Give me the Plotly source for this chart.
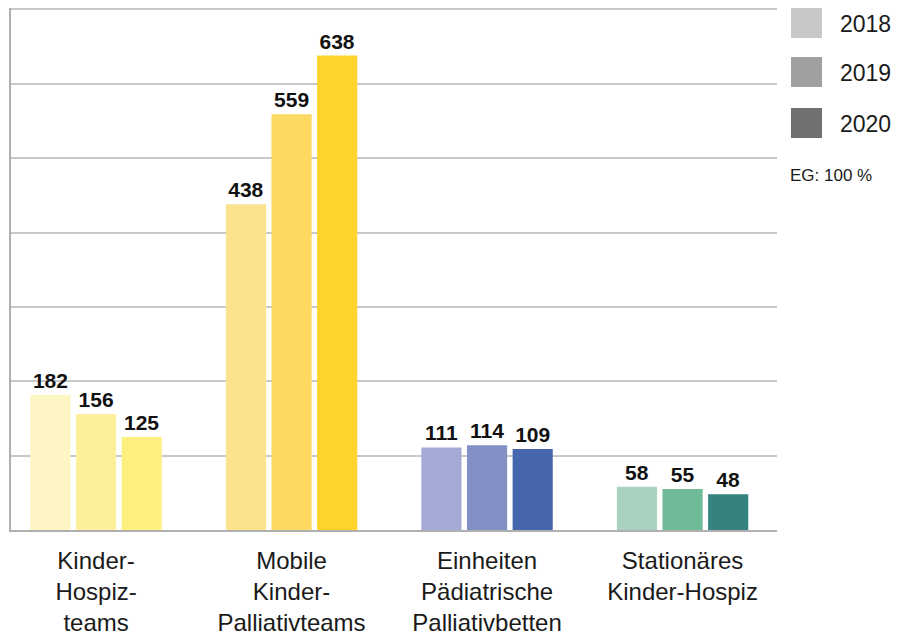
import plotly.graph_objects as go

categories = ["Kinder-<br>Hospiz-<br>teams", "Mobile<br>Kinder-<br>Palliativteams",
              "Einheiten<br>Pädiatrische<br>Palliativbetten", "Stationäres<br>Kinder-Hospiz"]
years = ["2018", "2019", "2020"]
v2018 = [182, 438, 111, 58]
v2019 = [156, 559, 114, 55]
v2020 = [125, 638, 109, 48]
colors2018 = ["#FDF6C4", "#FDE28E", "#A4AAD6", "#A9D3BE"]
colors2019 = ["#FCF09A", "#FDD962", "#8290C6", "#6FBA97"]
colors2020 = ["#FEF07F", "#FED42C", "#4566AD", "#35827F"]
legend_colors = ["#C8C8C8", "#A0A0A0", "#707070"]
note = "EG: 100 %"

W, H = 897, 635
L, R, T, B = 11, 120, 8, 105
pw, ph = W - L - R, H - T - B

def px(x):
    return (x - L) / pw

def py(y):
    return (H - B - y) / ph

FONT = "Liberation Sans"
xs = list(range(len(categories)))

fig = go.Figure()
for vals, cols, name in [(v2018, colors2018, years[0]), (v2019, colors2019, years[1]), (v2020, colors2020, years[2])]:
    fig.add_trace(go.Bar(
        x=xs, y=vals, name=name, marker=dict(color=cols, line=dict(width=0)),
        text=[str(v) for v in vals], textposition="outside", cliponaxis=False,
        textfont=dict(family=FONT, size=21, color="#111111", weight="bold"),
        showlegend=False,
    ))

fig.update_layout(
    width=W, height=H, margin=dict(l=L, r=R, t=T, b=B, autoexpand=False),
    paper_bgcolor="white", plot_bgcolor="white",
    barmode="group", bargap=0.30, bargroupgap=0.12,
    font=dict(family=FONT, color="#1a1a1a"),
    xaxis=dict(range=[-0.435, 3.483], tickvals=xs, ticktext=categories, automargin=False,
               showgrid=False, showline=True, linecolor="#b0b0b0", linewidth=1.5,
               ticks="", tickfont=dict(family=FONT, size=24, color="#1a1a1a"),
               ticklabelstandoff=8),
    yaxis=dict(range=[0, 702], dtick=100, showgrid=True, gridcolor="#c8c8c8", gridwidth=1.5,
               showline=True, linecolor="#b0b0b0", linewidth=1.5, showticklabels=False,
               ticks="", zeroline=False, automargin=False),
)

# legend squares and labels
sq_tops = [8, 57, 108]
for c, top, yr in zip(legend_colors, sq_tops, years):
    fig.add_shape(type="rect", xref="paper", yref="paper",
                  x0=px(791), x1=px(822), y0=py(top + 30), y1=py(top),
                  fillcolor=c, line=dict(width=0))
    fig.add_annotation(xref="paper", yref="paper", x=px(838), y=py(top + 16),
                       text=yr, showarrow=False, xanchor="left", yanchor="middle",
                       font=dict(family=FONT, size=23, color="#1a1a1a"))
fig.add_annotation(xref="paper", yref="paper", x=px(788), y=py(175),
                   text=note, showarrow=False, xanchor="left", yanchor="middle",
                   font=dict(family=FONT, size=17, color="#1a1a1a"))

fig.write_html("out.html")
